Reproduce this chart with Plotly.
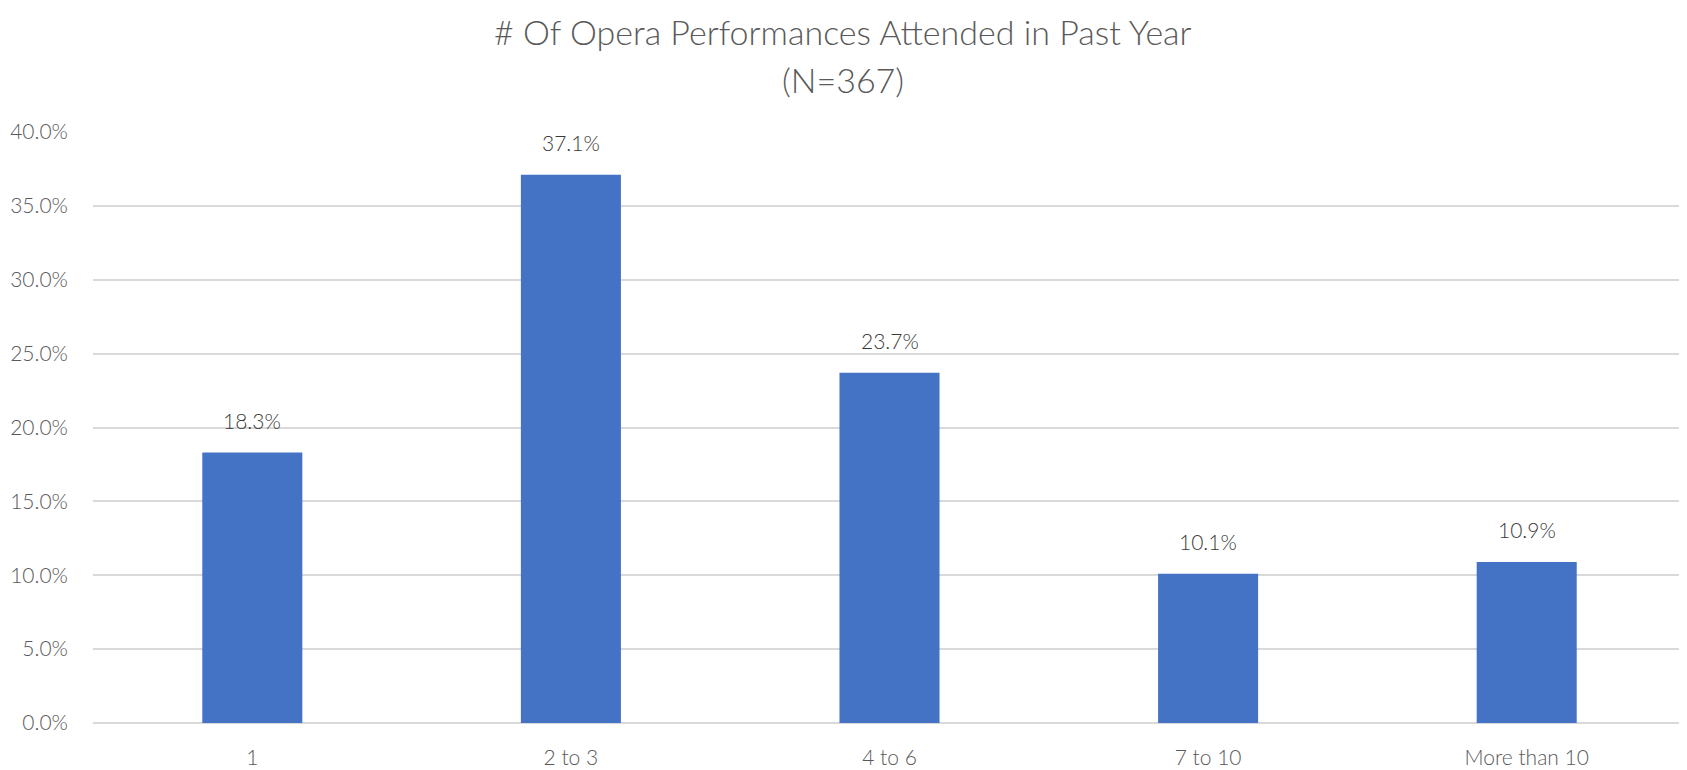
import plotly.graph_objects as go

categories = ["1", "2 to 3", "4 to 6", "7 to 10", "More than 10"]
values = [18.3, 37.1, 23.7, 10.1, 10.9]
y_ticks = [0, 5, 10, 15, 20, 25, 30, 35, 40]
y_tick_labels = ["0.0%", "5.0%", "10.0%", "15.0%", "20.0%", "25.0%", "30.0%", "35.0%", "40.0%"]
title_line1 = "# Of Opera Performances Attended in Past Year"
title_line2 = "(N=367)"

FONT = "Lato"
GRAY = "#595959"

fig = go.Figure()
fig.add_trace(go.Bar(
    x=categories, y=values,
    marker=dict(color="#4472C4", line=dict(width=0)),
    hoverinfo="skip",
))

for i, v in enumerate(values):
    fig.add_annotation(
        x=i, y=v, text=f"{v:.1f}%", showarrow=False,
        yanchor="bottom", yshift=18,
        font=dict(family=FONT, size=21, color="#3A3A3A", weight=300),
    )

TITLE_X = 0.4711
fig.add_annotation(
    xref="paper", yref="paper", x=TITLE_X, y=1, yshift=101,
    text=title_line1, showarrow=False, xanchor="center", yanchor="middle",
    borderpad=0,
    font=dict(family=FONT, size=34, color=GRAY, weight=300),
)
fig.add_annotation(
    xref="paper", yref="paper", x=TITLE_X, y=1, yshift=53,
    text=title_line2, showarrow=False, xanchor="center", yanchor="middle",
    borderpad=0,
    font=dict(family=FONT, size=34, color=GRAY, weight=300),
)

fig.update_layout(
    width=1679, height=762,
    margin=dict(l=85, r=1, t=124, b=47, autoexpand=False),
    paper_bgcolor="white", plot_bgcolor="white",
    bargap=0.686,
    showlegend=False,
    font=dict(family=FONT, color=GRAY),
)
fig.update_xaxes(
    type="category",
    showgrid=False, showline=False, zeroline=False, automargin=False,
    tickfont=dict(family=FONT, size=21, color=GRAY, weight=300),
    ticklabelstandoff=20,
)
fig.update_yaxes(
    range=[0, 40], tickvals=y_ticks, ticktext=y_tick_labels,
    showgrid=True, gridcolor="#D9D9D9", gridwidth=1.5,
    zeroline=True, zerolinecolor="#D9D9D9", zerolinewidth=1.5,
    showline=False, automargin=False,
    tickfont=dict(family=FONT, size=21, color=GRAY, weight=300),
    ticklabelstandoff=24,
)

fig.write_html("out.html")
